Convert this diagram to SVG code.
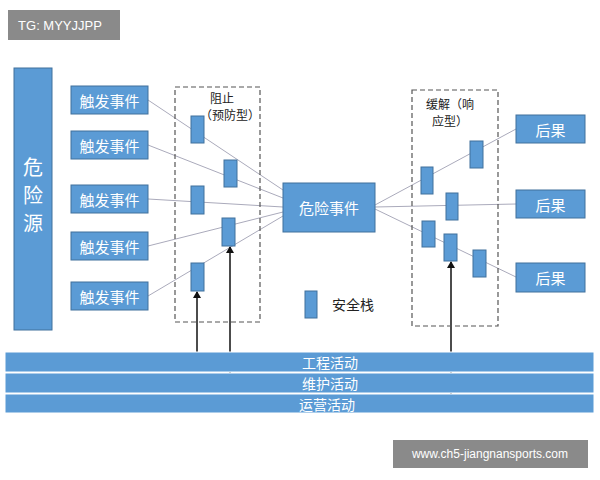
<svg xmlns="http://www.w3.org/2000/svg" width="600" height="480" viewBox="0 0 600 480">
<style>
.b{fill:#5b9bd5;stroke:#41719c;stroke-width:1}
.t{font-family:"Noto Sans CJK SC","Noto Sans",sans-serif;fill:#fff;font-size:15px;text-anchor:middle;dominant-baseline:central}
.k{font-family:"Noto Sans CJK SC","Noto Sans",sans-serif;fill:#222;font-size:12px}
.d{fill:none;stroke:#555;stroke-dasharray:5 3;stroke-width:1.2}
.l{stroke:#aab;stroke-width:1;fill:none}
.a{stroke:#111;stroke-width:1.5;marker-end:url(#ar)}
</style>
<defs><marker id="ar" markerWidth="8" markerHeight="8" refX="6" refY="4" orient="auto" markerUnits="userSpaceOnUse"><path d="M0,0L7,4L0,8z" fill="#111"/></marker></defs>
<rect width="600" height="480" fill="#fff"/>
<g id="connectors">
<line class="l" x1="148" y1="100" x2="283" y2="190"/>
<line class="l" x1="148" y1="145" x2="283" y2="198"/>
<line class="l" x1="148" y1="199" x2="283" y2="207"/>
<line class="l" x1="148" y1="246" x2="283" y2="212"/>
<line class="l" x1="148" y1="296" x2="283" y2="216"/>
<line class="l" x1="375" y1="205" x2="516" y2="129"/>
<line class="l" x1="375" y1="207" x2="516" y2="204"/>
<line class="l" x1="375" y1="209" x2="516" y2="277"/>
<line class="a" x1="197" y1="362" x2="197" y2="292"/>
<line class="a" x1="230" y1="383" x2="230" y2="247"/>
<line class="a" x1="451" y1="403" x2="451" y2="262"/>
</g>
<g id="hazard-source"><rect class="b" x="14" y="68" width="38" height="262"/><text class="t" style="font-size:20px"><tspan x="33" y="166">危</tspan><tspan x="33" y="194">险</tspan><tspan x="33" y="222">源</tspan></text></g>
<g id="triggers">
<rect class="b" x="71" y="86" width="77" height="28"/><text class="t" x="109.5" y="100">触发事件</text>
<rect class="b" x="71" y="131" width="77" height="28"/><text class="t" x="109.5" y="145">触发事件</text>
<rect class="b" x="71" y="185" width="77" height="28"/><text class="t" x="109.5" y="199">触发事件</text>
<rect class="b" x="71" y="232" width="77" height="28"/><text class="t" x="109.5" y="246">触发事件</text>
<rect class="b" x="71" y="282" width="77" height="28"/><text class="t" x="109.5" y="296">触发事件</text>
</g>
<g id="prevent"><rect class="d" x="175" y="87" width="85" height="235"/>
<text class="k" x="210" y="103">阻止</text><text class="k" x="200" y="120">（预防型）</text>
<rect class="b" x="191" y="116" width="13" height="27"/><rect class="b" x="224" y="160" width="13" height="27"/><rect class="b" x="191" y="186" width="13" height="28"/><rect class="b" x="222" y="218" width="13" height="28"/><rect class="b" x="191" y="263" width="13" height="28"/></g>
<g id="hazard-event"><rect class="b" x="283" y="183" width="92" height="49"/><text class="t" x="329" y="207">危险事件</text></g>
<g id="mitigate"><rect class="d" x="412" y="90" width="86" height="236"/>
<text class="k" x="426" y="109">缓解（响</text><text class="k" x="432" y="126">应型）</text>
<rect class="b" x="421" y="167" width="12" height="27"/><rect class="b" x="470" y="141" width="13" height="27"/><rect class="b" x="446" y="193" width="12" height="27"/><rect class="b" x="422" y="221" width="13" height="26"/><rect class="b" x="444" y="234" width="13" height="27"/><rect class="b" x="473" y="250" width="13" height="27"/></g>
<g id="consequences">
<rect class="b" x="516" y="115" width="69" height="28"/><text class="t" x="550.5" y="129">后果</text>
<rect class="b" x="516" y="190" width="69" height="28"/><text class="t" x="550.5" y="204">后果</text>
<rect class="b" x="516" y="263" width="69" height="29"/><text class="t" x="550.5" y="277">后果</text>
</g>
<g id="legend"><rect class="b" x="305" y="291" width="12" height="27"/><text class="k" x="332" y="310" style="font-size:14px">安全栈</text></g>
<g id="activities">
<rect fill="#5b9bd5" stroke="#fff" x="5" y="352" width="589" height="20"/><text class="t" x="330" y="362" style="font-size:14px">工程活动</text>
<rect fill="#5b9bd5" stroke="#fff" x="5" y="373" width="589" height="20"/><text class="t" x="330" y="383" style="font-size:14px">维护活动</text>
<rect fill="#5b9bd5" stroke="#fff" x="5" y="394" width="589" height="19"/><text class="t" x="327" y="403.5" style="font-size:14px">运营活动</text>
</g>
<g id="wm1"><rect x="8" y="10" width="112" height="30" fill="#8a8a8a"/><text class="t" x="60" y="25" style="font-size:13px;font-family:'Liberation Sans',sans-serif">TG: MYYJJPP</text></g>
<g id="wm2"><rect x="393" y="440" width="195" height="28" fill="#8a8a8a"/><text class="t" x="490" y="454" style="font-size:12px;font-family:'Liberation Sans',sans-serif">www.ch5-jiangnansports.com</text></g>
</svg>
